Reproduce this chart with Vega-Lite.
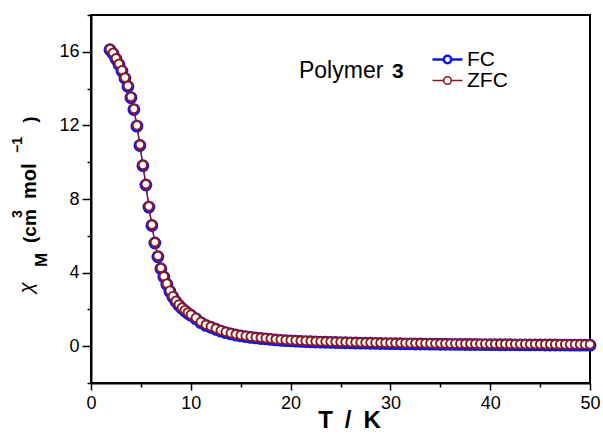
{
  "$schema": "https://vega.github.io/schema/vega-lite/v6.json",
  "width": 499,
  "height": 368,
  "autosize": "none",
  "padding": {"left": 91, "top": 15, "right": 13, "bottom": 53},
  "background": "white",
  "config": {
    "view": {"stroke": "black", "strokeWidth": 2},
    "font": "Liberation Sans",
    "legend": {
      "orient": "none",
      "legendX": 346,
      "legendY": 34,
      "padding": 0,
      "symbolType": "M -1 0 L -0.25 0 M 0.25 0 A 0.25 0.25 0 1 1 -0.25 0 A 0.25 0.25 0 1 1 0.25 0 M 0.25 0 L 1 0",
      "symbolSize": 900,
      "symbolFillColor": "white",
      "symbolStrokeWidth": 2,
      "symbolOpacity": 1,
      "labelFont": "Liberation Sans",
      "labelFontSize": 21,
      "labelColor": "black",
      "labelOffset": 9,
      "rowPadding": -6
    }
  },
  "resolve": {"axis": {"x": "independent", "y": "independent"}},
  "datasets": {
    "mag": [
      {"T": 1.9, "ZFC": 16.15, "FC": 16.11},
      {"T": 2.2, "ZFC": 15.95, "FC": 15.91},
      {"T": 2.5, "ZFC": 15.65, "FC": 15.61},
      {"T": 2.8, "ZFC": 15.35, "FC": 15.31},
      {"T": 3.1, "ZFC": 15.0, "FC": 14.96},
      {"T": 3.4, "ZFC": 14.6, "FC": 14.56},
      {"T": 3.7, "ZFC": 14.15, "FC": 14.11},
      {"T": 4.0, "ZFC": 13.55, "FC": 13.51},
      {"T": 4.3, "ZFC": 12.9, "FC": 12.86},
      {"T": 4.6, "ZFC": 12.0, "FC": 11.96},
      {"T": 4.9, "ZFC": 10.95, "FC": 10.91},
      {"T": 5.2, "ZFC": 9.85, "FC": 9.81},
      {"T": 5.5, "ZFC": 8.8, "FC": 8.76},
      {"T": 5.8, "ZFC": 7.6, "FC": 7.56},
      {"T": 6.1, "ZFC": 6.6, "FC": 6.56},
      {"T": 6.4, "ZFC": 5.65, "FC": 5.61},
      {"T": 6.7, "ZFC": 4.9, "FC": 4.86},
      {"T": 7.0, "ZFC": 4.25, "FC": 4.21},
      {"T": 7.3, "ZFC": 3.8, "FC": 3.76},
      {"T": 7.6, "ZFC": 3.4, "FC": 3.36},
      {"T": 7.9, "ZFC": 3.02, "FC": 2.98},
      {"T": 8.2, "ZFC": 2.72, "FC": 2.68},
      {"T": 8.5, "ZFC": 2.47, "FC": 2.43},
      {"T": 8.8, "ZFC": 2.27, "FC": 2.23},
      {"T": 9.1, "ZFC": 2.1, "FC": 2.06},
      {"T": 9.4, "ZFC": 1.96, "FC": 1.92},
      {"T": 9.7, "ZFC": 1.83, "FC": 1.79},
      {"T": 10.0, "ZFC": 1.72, "FC": 1.68},
      {"T": 10.5, "ZFC": 1.54, "FC": 1.5},
      {"T": 11.0, "ZFC": 1.32, "FC": 1.28},
      {"T": 11.5, "ZFC": 1.17, "FC": 1.13},
      {"T": 12.0, "ZFC": 1.07, "FC": 1.03},
      {"T": 12.5, "ZFC": 0.96, "FC": 0.92},
      {"T": 13.0, "ZFC": 0.86, "FC": 0.82},
      {"T": 13.5, "ZFC": 0.78, "FC": 0.74},
      {"T": 14.0, "ZFC": 0.71, "FC": 0.67},
      {"T": 14.5, "ZFC": 0.65, "FC": 0.61},
      {"T": 15.0, "ZFC": 0.6, "FC": 0.56},
      {"T": 15.5, "ZFC": 0.56, "FC": 0.52},
      {"T": 16.0, "ZFC": 0.52, "FC": 0.48},
      {"T": 16.5, "ZFC": 0.49, "FC": 0.45},
      {"T": 17.0, "ZFC": 0.46, "FC": 0.42},
      {"T": 17.5, "ZFC": 0.44, "FC": 0.4},
      {"T": 18.0, "ZFC": 0.41, "FC": 0.37},
      {"T": 18.5, "ZFC": 0.38, "FC": 0.34},
      {"T": 19.0, "ZFC": 0.36, "FC": 0.32},
      {"T": 19.5, "ZFC": 0.34, "FC": 0.3},
      {"T": 20.0, "ZFC": 0.33, "FC": 0.29},
      {"T": 20.5, "ZFC": 0.315, "FC": 0.275},
      {"T": 21.0, "ZFC": 0.3, "FC": 0.26},
      {"T": 21.5, "ZFC": 0.29, "FC": 0.25},
      {"T": 22.0, "ZFC": 0.28, "FC": 0.24},
      {"T": 22.5, "ZFC": 0.27, "FC": 0.23},
      {"T": 23.0, "ZFC": 0.26, "FC": 0.22},
      {"T": 23.5, "ZFC": 0.255, "FC": 0.215},
      {"T": 24.0, "ZFC": 0.247, "FC": 0.207},
      {"T": 24.5, "ZFC": 0.24, "FC": 0.2},
      {"T": 25.0, "ZFC": 0.233, "FC": 0.193},
      {"T": 25.5, "ZFC": 0.226, "FC": 0.186},
      {"T": 26.0, "ZFC": 0.22, "FC": 0.18},
      {"T": 26.5, "ZFC": 0.214, "FC": 0.174},
      {"T": 27.0, "ZFC": 0.208, "FC": 0.168},
      {"T": 27.5, "ZFC": 0.203, "FC": 0.163},
      {"T": 28.0, "ZFC": 0.198, "FC": 0.158},
      {"T": 28.5, "ZFC": 0.193, "FC": 0.153},
      {"T": 29.0, "ZFC": 0.189, "FC": 0.149},
      {"T": 29.5, "ZFC": 0.184, "FC": 0.144},
      {"T": 30.0, "ZFC": 0.18, "FC": 0.14},
      {"T": 30.5, "ZFC": 0.176, "FC": 0.136},
      {"T": 31.0, "ZFC": 0.172, "FC": 0.132},
      {"T": 31.5, "ZFC": 0.169, "FC": 0.129},
      {"T": 32.0, "ZFC": 0.165, "FC": 0.125},
      {"T": 32.5, "ZFC": 0.162, "FC": 0.122},
      {"T": 33.0, "ZFC": 0.159, "FC": 0.119},
      {"T": 33.5, "ZFC": 0.156, "FC": 0.116},
      {"T": 34.0, "ZFC": 0.153, "FC": 0.113},
      {"T": 34.5, "ZFC": 0.15, "FC": 0.11},
      {"T": 35.0, "ZFC": 0.147, "FC": 0.107},
      {"T": 35.5, "ZFC": 0.144, "FC": 0.104},
      {"T": 36.0, "ZFC": 0.142, "FC": 0.102},
      {"T": 36.5, "ZFC": 0.139, "FC": 0.099},
      {"T": 37.0, "ZFC": 0.137, "FC": 0.097},
      {"T": 37.5, "ZFC": 0.135, "FC": 0.095},
      {"T": 38.0, "ZFC": 0.132, "FC": 0.092},
      {"T": 38.5, "ZFC": 0.13, "FC": 0.09},
      {"T": 39.0, "ZFC": 0.128, "FC": 0.088},
      {"T": 39.5, "ZFC": 0.126, "FC": 0.086},
      {"T": 40.0, "ZFC": 0.124, "FC": 0.084},
      {"T": 40.5, "ZFC": 0.122, "FC": 0.082},
      {"T": 41.0, "ZFC": 0.12, "FC": 0.08},
      {"T": 41.5, "ZFC": 0.119, "FC": 0.079},
      {"T": 42.0, "ZFC": 0.117, "FC": 0.077},
      {"T": 42.5, "ZFC": 0.115, "FC": 0.075},
      {"T": 43.0, "ZFC": 0.114, "FC": 0.074},
      {"T": 43.5, "ZFC": 0.112, "FC": 0.072},
      {"T": 44.0, "ZFC": 0.11, "FC": 0.07},
      {"T": 44.5, "ZFC": 0.109, "FC": 0.069},
      {"T": 45.0, "ZFC": 0.108, "FC": 0.068},
      {"T": 45.5, "ZFC": 0.106, "FC": 0.066},
      {"T": 46.0, "ZFC": 0.105, "FC": 0.065},
      {"T": 46.5, "ZFC": 0.103, "FC": 0.063},
      {"T": 47.0, "ZFC": 0.102, "FC": 0.062},
      {"T": 47.5, "ZFC": 0.101, "FC": 0.061},
      {"T": 48.0, "ZFC": 0.1, "FC": 0.06},
      {"T": 48.5, "ZFC": 0.098, "FC": 0.058},
      {"T": 49.0, "ZFC": 0.097, "FC": 0.057},
      {"T": 49.5, "ZFC": 0.096, "FC": 0.056},
      {"T": 50.0, "ZFC": 0.095, "FC": 0.055}
    ],
    "note": [{"id": 1}]
  },
  "layer": [
    {
      "data": {"name": "mag"},
      "transform": [{"fold": ["FC", "ZFC"], "as": ["series", "chi"]}],
      "encoding": {
        "x": {
          "field": "T",
          "type": "quantitative",
          "scale": {"domain": [0, 50], "nice": false},
          "axis": {
            "values": [0, 5, 10, 15, 20, 25, 30, 35, 40, 45, 50],
            "labelExpr": "datum.value % 10 === 0 ? datum.label : ''",
            "tickSize": {"condition": {"test": "datum.value % 10 === 0", "value": 7}, "value": 4},
            "tickWidth": 1.5,
            "tickColor": "black",
            "domainColor": "black",
            "domainWidth": 2,
            "labelFont": "Liberation Sans",
            "labelFontSize": 18,
            "labelColor": "black",
            "labelPadding": 4,
            "labelFlush": false,
            "labelOverlap": false,
            "grid": false,
            "title": "T\u2002/\u2002K",
            "titleFont": "Liberation Sans",
            "titleFontSize": 24,
            "titleFontWeight": "bold",
            "titleColor": "black",
            "titleX": 258,
            "titleY": 44,
            "titleBaseline": "alphabetic",
            "titleAlign": "center"
          }
        },
        "y": {
          "field": "chi",
          "type": "quantitative",
          "scale": {"domain": [-2, 18], "nice": false, "zero": false},
          "axis": {
            "values": [-2, 0, 2, 4, 6, 8, 10, 12, 14, 16, 18],
            "labelExpr": "datum.value % 4 === 0 ? datum.label : ''",
            "tickSize": {"condition": {"test": "datum.value % 4 === 0", "value": 9}, "value": 4},
            "tickWidth": 1.5,
            "tickColor": "black",
            "domainColor": "black",
            "domainWidth": 2,
            "labelFont": "Liberation Sans",
            "labelFontSize": 18,
            "labelColor": "black",
            "labelPadding": 3,
            "labelOverlap": false,
            "labelFlush": false,
            "grid": false,
            "title": null
          }
        }
      },
      "layer": [
        {
          "transform": [{"filter": "datum.series === 'FC'"}],
          "mark": {"type": "line", "strokeWidth": 1.3},
          "encoding": {
            "stroke": {
              "field": "series",
              "type": "nominal",
              "scale": {"domain": ["FC", "ZFC"], "range": ["#1414f0", "#8b1a1a"]},
              "legend": {
                "title": null,
                "encode": {"symbols": {"update": {"strokeWidth": {"signal": "datum.value === 'FC' ? 2.6 : 1.6"}}}}
              }
            }
          }
        },
        {
          "transform": [{"filter": "datum.series === 'FC'"}],
          "mark": {"type": "point", "shape": "circle", "filled": true, "fill": "white", "size": 105, "strokeWidth": 2.6, "opacity": 1},
          "encoding": {"stroke": {"field": "series", "type": "nominal", "legend": {"title": null}}}
        },
        {
          "transform": [{"filter": "datum.series === 'ZFC'"}],
          "mark": {"type": "line", "strokeWidth": 1.3},
          "encoding": {"stroke": {"field": "series", "type": "nominal", "legend": {"title": null}}}
        },
        {
          "transform": [{"filter": "datum.series === 'ZFC'"}],
          "mark": {"type": "point", "shape": "circle", "filled": true, "fill": "white", "size": 72, "strokeWidth": 1.9, "opacity": 1},
          "encoding": {"stroke": {"field": "series", "type": "nominal", "legend": {"title": null}}}
        }
      ]
    },
    {
      "data": {"name": "note"},
      "mark": {"type": "text", "text": "Polymer", "align": "left", "baseline": "alphabetic", "font": "Liberation Sans", "fontSize": 23, "fill": "black"},
      "encoding": {"x": {"datum": 20.84, "type": "quantitative", "axis": null}, "y": {"datum": 14.59, "type": "quantitative", "axis": null}}
    },
    {
      "data": {"name": "note"},
      "mark": {"type": "text", "text": "3", "align": "left", "baseline": "alphabetic", "font": "Liberation Sans", "fontSize": 21, "fontWeight": "bold", "fill": "black"},
      "encoding": {"x": {"datum": 30.16, "type": "quantitative", "axis": null}, "y": {"datum": 14.59, "type": "quantitative", "axis": null}}
    },
    {
      "data": {"name": "note"},
      "mark": {"type": "text", "text": "χ", "angle": 270, "align": "left", "baseline": "alphabetic", "font": "Liberation Sans", "fontSize": 20, "fontStyle": "italic", "fill": "black"},
      "encoding": {"x": {"datum": -5.81, "type": "quantitative", "axis": null}, "y": {"datum": 2.88, "type": "quantitative", "axis": null}}
    },
    {
      "data": {"name": "note"},
      "mark": {"type": "text", "text": "M", "angle": 270, "align": "left", "baseline": "alphabetic", "font": "Liberation Sans", "fontSize": 17, "fontWeight": "bold", "fill": "black"},
      "encoding": {"x": {"datum": -4.41, "type": "quantitative", "axis": null}, "y": {"datum": 4.3, "type": "quantitative", "axis": null}}
    },
    {
      "data": {"name": "note"},
      "mark": {"type": "text", "text": "(cm", "angle": 270, "align": "left", "baseline": "alphabetic", "font": "Liberation Sans", "fontSize": 19, "fontWeight": "bold", "fill": "black"},
      "encoding": {"x": {"datum": -5.51, "type": "quantitative", "axis": null}, "y": {"datum": 5.61, "type": "quantitative", "axis": null}}
    },
    {
      "data": {"name": "note"},
      "mark": {"type": "text", "text": "3", "angle": 270, "align": "left", "baseline": "alphabetic", "font": "Liberation Sans", "fontSize": 14, "fontWeight": "bold", "fill": "black"},
      "encoding": {"x": {"datum": -6.91, "type": "quantitative", "axis": null}, "y": {"datum": 6.97, "type": "quantitative", "axis": null}}
    },
    {
      "data": {"name": "note"},
      "mark": {"type": "text", "text": "mol", "angle": 270, "align": "left", "baseline": "alphabetic", "font": "Liberation Sans", "fontSize": 20, "fontWeight": "bold", "fill": "black"},
      "encoding": {"x": {"datum": -5.51, "type": "quantitative", "axis": null}, "y": {"datum": 8.0, "type": "quantitative", "axis": null}}
    },
    {
      "data": {"name": "note"},
      "mark": {"type": "text", "text": "−1", "angle": 270, "align": "left", "baseline": "alphabetic", "font": "Liberation Sans", "fontSize": 14, "fontWeight": "bold", "fill": "black"},
      "encoding": {"x": {"datum": -6.91, "type": "quantitative", "axis": null}, "y": {"datum": 10.5, "type": "quantitative", "axis": null}}
    },
    {
      "data": {"name": "note"},
      "mark": {"type": "text", "text": ")", "angle": 270, "align": "left", "baseline": "alphabetic", "font": "Liberation Sans", "fontSize": 19, "fontWeight": "bold", "fill": "black"},
      "encoding": {"x": {"datum": -5.51, "type": "quantitative", "axis": null}, "y": {"datum": 12.14, "type": "quantitative", "axis": null}}
    }
  ]
}
